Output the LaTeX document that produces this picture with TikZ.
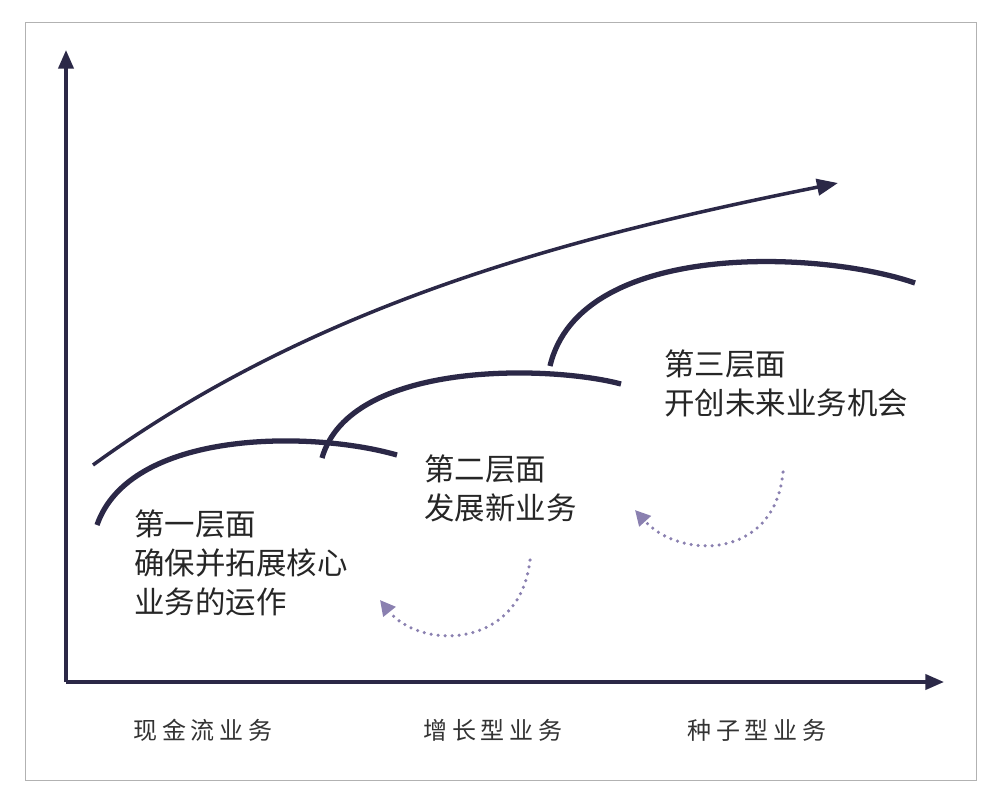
\documentclass[tikz,border=0pt]{standalone}
\usepackage{fontspec}
\newfontfamily\cjk{Noto Sans CJK SC}
\newfontfamily\cjkl[LetterSpace=20]{Noto Sans CJK SC}
\usetikzlibrary{arrows.meta}
\definecolor{navy}{HTML}{2B2847}
\definecolor{lav}{HTML}{8A80B0}
\tikzset{
 ax/.style={navy,line width=3pt,-{Triangle[length=16pt,width=13pt]}},
 crv/.style={navy,line width=4.5pt,line cap=butt},
 dot/.style={lav,line width=3pt,dash pattern=on 0pt off 6pt,line cap=round,-{Triangle[length=13pt,width=13pt,line cap=butt]}},
 lab/.style={font=\cjk\fontsize{26pt}{33pt}\selectfont,align=left,anchor=north west,inner sep=0pt,text=black!85},
 bot/.style={font=\cjkl\fontsize{20.5pt}{24pt}\selectfont,anchor=west,inner sep=0pt,text=black!80}
}
\begin{document}
\begin{tikzpicture}[x=0.03cm,y=-0.03cm]
\useasboundingbox (0,0) rectangle (1000,805);
\draw[black!30,line width=0.8pt] (25,22) rectangle (976,780);
\coordinate (o) at (66,682);
\coordinate (yt) at (66,50);
\coordinate (xt) at (944,682);
\draw[ax] (o) -- (yt);
\draw[ax] (o) -- (xt);
\coordinate (a0) at (93,465);\coordinate (a1) at (838,183);
\draw[navy,line width=3pt,-{Triangle[length=18pt,width=14pt]}] (a0) .. controls (320,300) and (580,235) .. (a1);
\coordinate (c1a) at (97,525);\coordinate (c1b) at (397,455);
\draw[crv] (c1a) .. controls (130,430) and (310,430) .. (c1b);
\coordinate (c2a) at (322,458);\coordinate (c2b) at (621,384);
\draw[crv] (c2a) .. controls (350,360) and (550,365) .. (c2b);
\coordinate (c3a) at (550,366);\coordinate (c3b) at (915,283);
\draw[crv] (c3a) .. controls (580,240) and (820,250) .. (c3b);
\node[lab] (t1) at (134,510) {第一层面\\确保并拓展核心\\业务的运作};
\node[lab] (t2) at (424,455) {第二层面\\发展新业务};
\node[lab] (t3) at (664,350) {第三层面\\开创未来业务机会};
\coordinate (d1a) at (530,560);\coordinate (d1b) at (380,600);
\draw[dot] (d1a) .. controls (520,650) and (420,650) .. (d1b);
\coordinate (d2a) at (783,472);\coordinate (d2b) at (635,510);
\draw[dot] (d2a) .. controls (775,560) and (680,560) .. (d2b);
\node[bot] (b1) at (133,730) {现金流业务};
\node[bot] (b2) at (423,730) {增长型业务};
\node[bot] (b3) at (687,730) {种子型业务};
\end{tikzpicture}
\end{document}
